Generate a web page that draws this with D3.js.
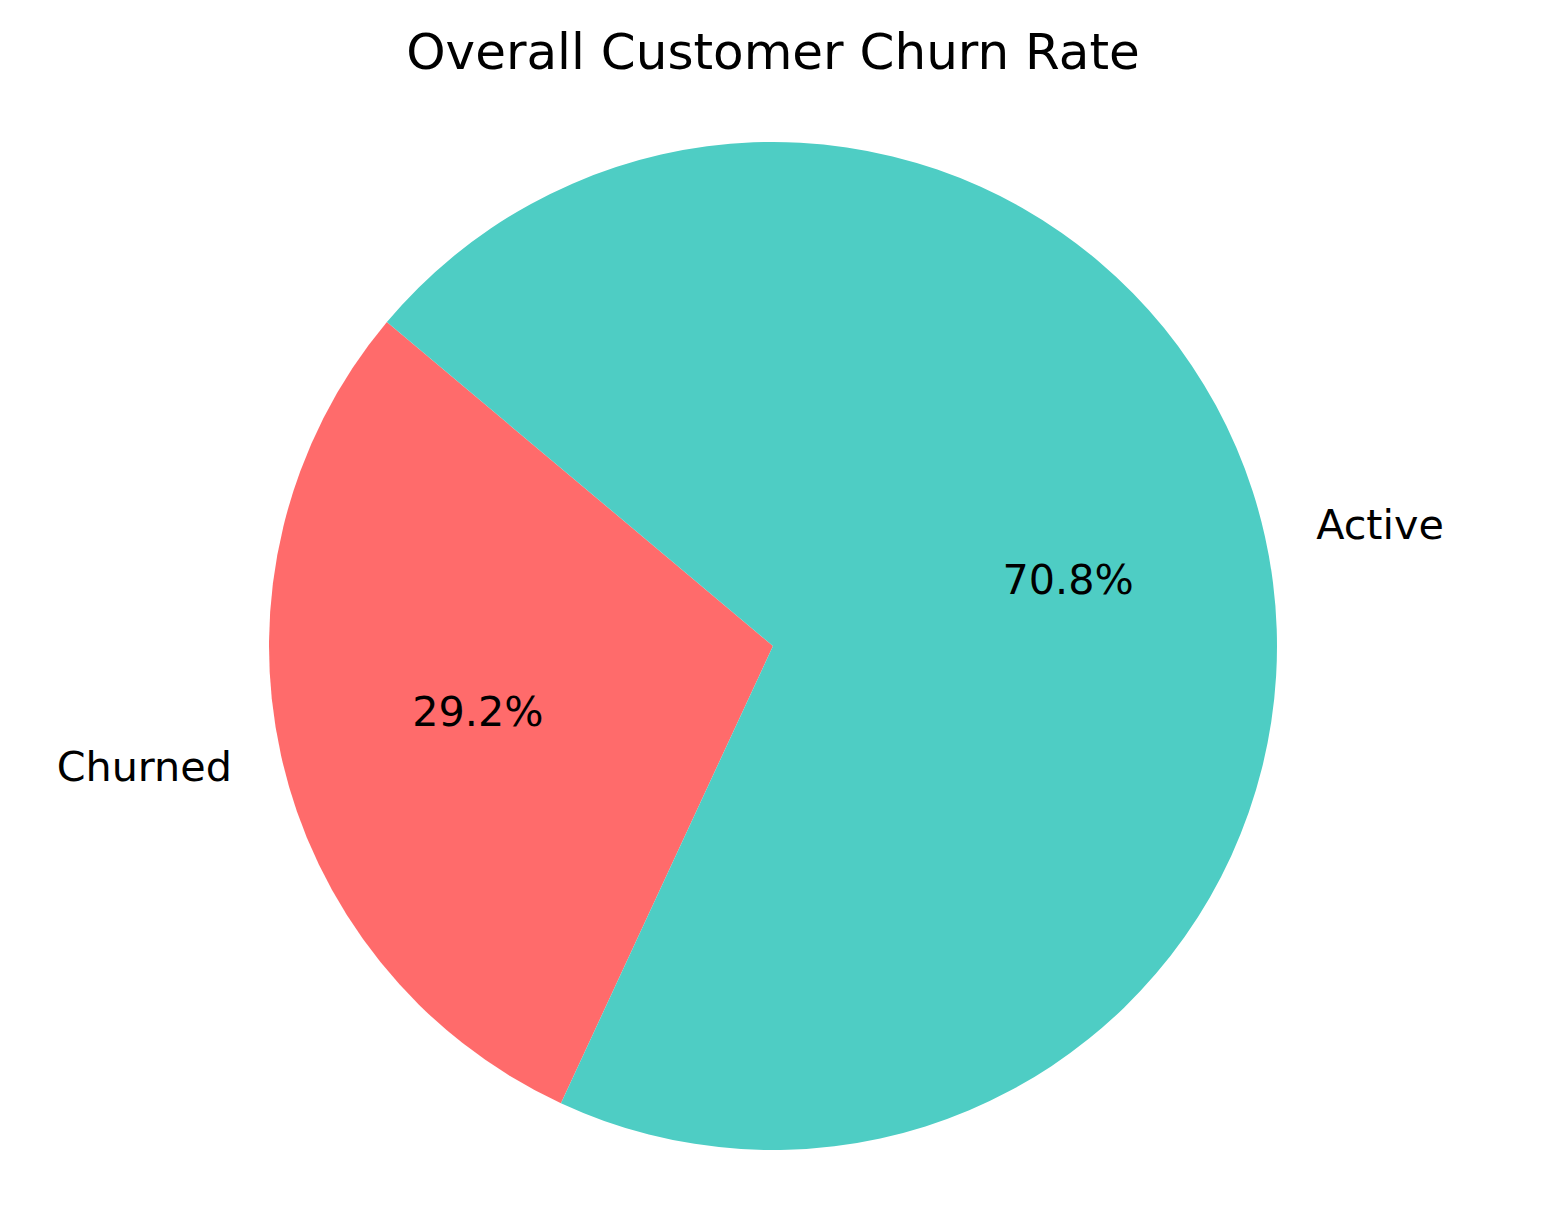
<!DOCTYPE html>
<html>
<head>
<meta charset="utf-8">
<script src="https://cdn.jsdelivr.net/npm/d3@7"></script>
<style>
  html, body { margin: 0; padding: 0; background: #fff; }
  svg { display: block; font-family: "DejaVu Sans", sans-serif; }
</style>
</head>
<body>
<svg id="chart" width="1548" height="1231"></svg>
<script>
const categories = ["Churned", "Active"];
const values = [29.2, 70.8];
const colors = ["#FF6B6B", "#4ECDC4"];
const title = "Overall Customer Churn Rate";

const W = 1548, H = 1231;
const cx = 773, cy = 646, R = 504;
const startDeg = 140; // matplotlib-style start angle, counterclockwise

const svg = d3.select("#chart");

svg.append("text")
  .attr("x", cx).attr("y", 69)
  .attr("text-anchor", "middle")
  .attr("font-size", 50)
  .attr("fill", "#000")
  .text(title);

const data = categories.map((c, i) => ({ label: c, value: values[i], color: colors[i] }));

const a0 = (90 - startDeg) * Math.PI / 180;
const pie = d3.pie().value(d => d.value).sort(null)
  .startAngle(a0).endAngle(a0 - 2 * Math.PI);
const arcs = pie(data);

const arc = d3.arc().innerRadius(0).outerRadius(R);
const g = svg.append("g").attr("transform", `translate(${cx},${cy})`);

g.selectAll("path").data(arcs).enter().append("path")
  .attr("d", arc)
  .attr("fill", d => d.data.color);

const pos = (d, r) => {
  const m = (d.startAngle + d.endAngle) / 2;
  return [Math.sin(m) * r, -Math.cos(m) * r];
};

g.selectAll("text.lbl").data(arcs).enter().append("text")
  .attr("class", "lbl")
  .attr("x", d => pos(d, 1.1 * R)[0] + (pos(d, 1)[0] < 0 ? 0 : 2))
  .attr("y", d => pos(d, 1.1 * R)[1])
  .attr("text-anchor", d => pos(d, 1)[0] < 0 ? "end" : "start")
  .attr("dominant-baseline", "central")
  .attr("font-size", 41.3)
  .attr("fill", "#000")
  .text(d => d.data.label);

g.selectAll("text.pct").data(arcs).enter().append("text")
  .attr("class", "pct")
  .attr("x", d => pos(d, 0.6 * R)[0])
  .attr("y", d => pos(d, 0.6 * R)[1])
  .attr("text-anchor", "middle")
  .attr("dominant-baseline", "central")
  .attr("font-size", 41.3)
  .attr("fill", "#000")
  .text(d => d.data.value.toFixed(1) + "%");
</script>
</body>
</html>
